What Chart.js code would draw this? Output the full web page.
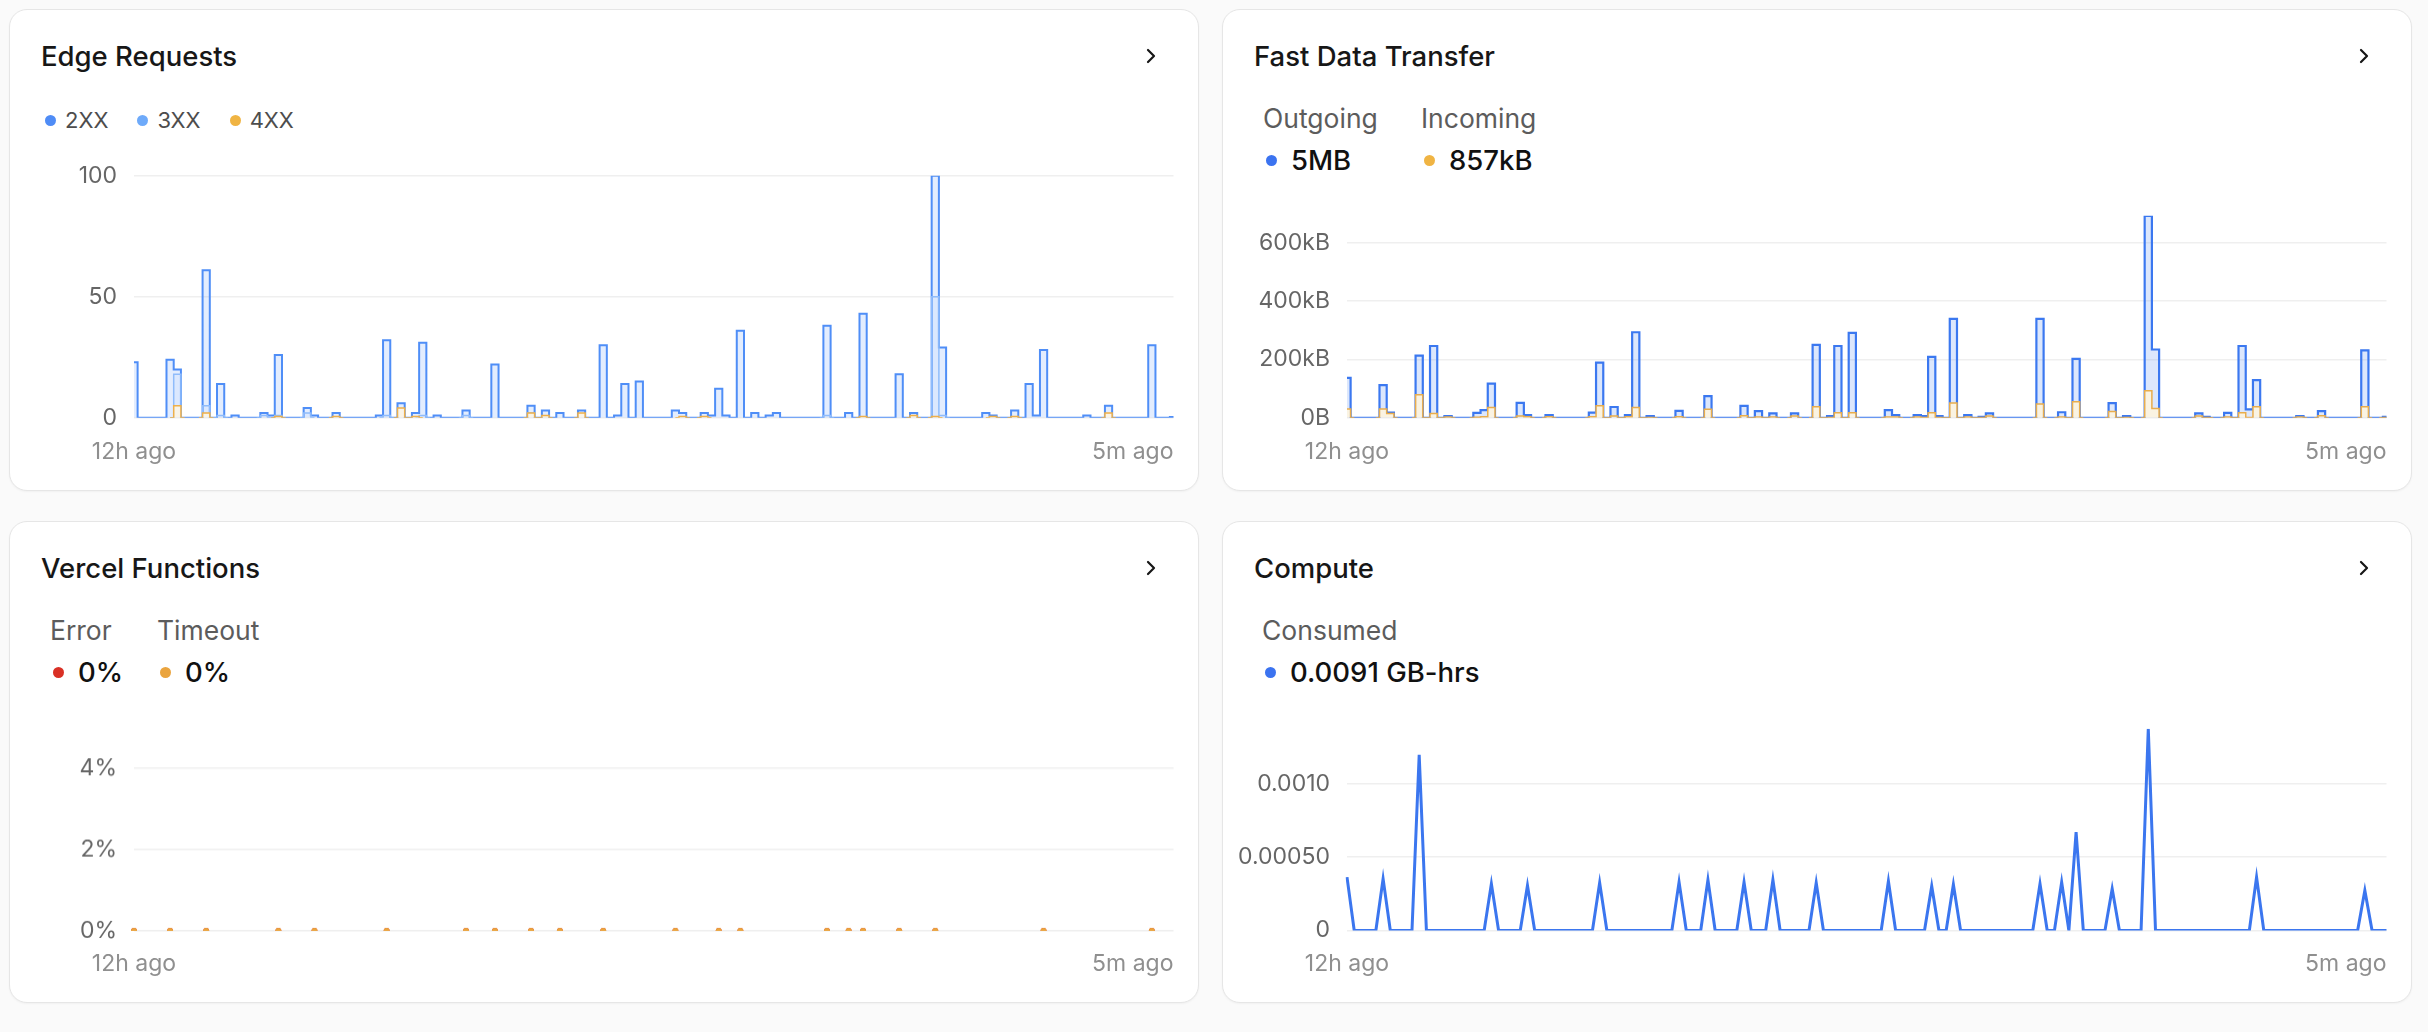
<!DOCTYPE html>
<html>
<head>
<meta charset="utf-8">
<title>Usage overview</title>
<script src="https://cdn.jsdelivr.net/npm/chart.js@4.4.1/dist/chart.umd.min.js"></script>
<style>
body{margin:0;background:#fafafa;font-family:Inter,"Noto Sans",sans-serif;width:2428px;height:1032px;overflow:hidden;}
.card{position:absolute;width:1190px;height:482px;box-sizing:border-box;background:#fff;border:1px solid #e6e6e6;border-radius:18px;box-shadow:0 1px 2px rgba(0,0,0,.04);}
.title{position:absolute;left:31px;top:30px;font-size:27.5px;line-height:32px;font-weight:500;color:#171717;white-space:nowrap;}
.chev{position:absolute;left:1135px;top:37px;}
.plot{position:absolute;left:0;width:1188px;}
.legend{position:absolute;left:35px;top:96px;display:flex;font-size:22px;line-height:28px;color:#4d4d4d;}
.legend span{display:flex;align-items:center;margin-right:29px;}
.legend i{display:inline-block;width:11px;height:11px;border-radius:50%;margin-right:9px;}
.stat{position:absolute;top:92px;white-space:nowrap;}
.stat .lbl{font-size:26.5px;line-height:32px;color:#5c5c5c;}
.stat .val{margin-top:10px;font-size:27.5px;line-height:32px;color:#111;font-weight:500;display:flex;align-items:center;}
.stat .val i{display:inline-block;width:11px;height:11px;border-radius:50%;margin:0 14px 0 3px;}
.xl{position:absolute;top:427px;font-size:23px;line-height:28px;color:#8f8f8f;white-space:nowrap;}
.xl.l{left:124px;transform:translateX(-50%);}
.xl.r{right:24.5px;}
</style>
</head>
<body>

<!-- Edge Requests -->
<div class="card" style="left:9px;top:9px">
  <div class="title">Edge Requests</div>
  <svg class="chev" width="12" height="18" viewBox="0 0 12 18"><path d="M3 3 L9 9 L3 15" fill="none" stroke="#171717" stroke-width="2.2" stroke-linecap="round" stroke-linejoin="round"/></svg>
  <div class="legend">
    <span><i style="background:#4f8cf6"></i>2XX</span>
    <span><i style="background:#6eaafa"></i>3XX</span>
    <span><i style="background:#f0b443"></i>4XX</span>
  </div>
  <div class="plot" style="top:134.6px;height:303.6px"><canvas id="edgeChart"></canvas></div>
  <div class="xl l">12h ago</div><div class="xl r">5m ago</div>
</div>

<!-- Fast Data Transfer -->
<div class="card" style="left:1222px;top:9px">
  <div class="title">Fast Data Transfer</div>
  <svg class="chev" width="12" height="18" viewBox="0 0 12 18"><path d="M3 3 L9 9 L3 15" fill="none" stroke="#171717" stroke-width="2.2" stroke-linecap="round" stroke-linejoin="round"/></svg>
  <div class="stat" style="left:40px"><div class="lbl">Outgoing</div><div class="val"><i style="background:#3b73f0"></i>5MB</div></div>
  <div class="stat" style="left:198px"><div class="lbl">Incoming</div><div class="val"><i style="background:#f0b443"></i>857kB</div></div>
  <div class="plot" style="top:174.6px;height:263.6px"><canvas id="fdtChart"></canvas></div>
  <div class="xl l">12h ago</div><div class="xl r">5m ago</div>
</div>

<!-- Vercel Functions -->
<div class="card" style="left:9px;top:521px">
  <div class="title">Vercel Functions</div>
  <svg class="chev" width="12" height="18" viewBox="0 0 12 18"><path d="M3 3 L9 9 L3 15" fill="none" stroke="#171717" stroke-width="2.2" stroke-linecap="round" stroke-linejoin="round"/></svg>
  <div class="stat" style="left:40px"><div class="lbl">Error</div><div class="val"><i style="background:#d93025"></i>0%</div></div>
  <div class="stat" style="left:147px"><div class="lbl">Timeout</div><div class="val"><i style="background:#eaa43e"></i>0%</div></div>
  <div class="plot" style="top:175.1px;height:263.7px"><canvas id="fnChart"></canvas></div>
  <div class="xl l">12h ago</div><div class="xl r">5m ago</div>
</div>

<!-- Compute -->
<div class="card" style="left:1222px;top:521px">
  <div class="title">Compute</div>
  <svg class="chev" width="12" height="18" viewBox="0 0 12 18"><path d="M3 3 L9 9 L3 15" fill="none" stroke="#171717" stroke-width="2.2" stroke-linecap="round" stroke-linejoin="round"/></svg>
  <div class="stat" style="left:39px"><div class="lbl">Consumed</div><div class="val"><i style="background:#3b73f0"></i>0.0091 GB-hrs</div></div>
  <div class="plot" style="top:175.5px;height:263.3px"><canvas id="computeChart"></canvas></div>
  <div class="xl l">12h ago</div><div class="xl r">5m ago</div>
</div>

<script>
// 145 five-minute slots, 12h ago -> now
// (rows of 10 slots)

// edge requests per slot
var edge2xx = [
  23,0,0,0,0,24,20,0,0,0,
  61,0,14,0,1,0,0,0,2,1,
  26,0,0,0,4,1,0,0,2,0,
  0,0,0,0,1,32,0,6,0,2,
  31,0,1,0,0,0,3,0,0,0,
  22,0,0,0,0,5,0,3,0,2,
  0,0,3,0,0,30,0,1,14,0,
  15,0,0,0,0,3,2,0,0,2,
  1,12,1,0,36,0,2,0,1,2,
  0,0,0,0,0,0,38,0,0,2,
  0,43,0,0,0,0,18,0,2,0,
  0,100,29,0,0,0,0,0,2,1,
  0,0,3,0,14,1,28,0,0,0,
  0,0,1,0,0,5,0,0,0,0,
  0,30,0,0,0.3
];
var edge3xx = [
  0,0,0,0,0,0,18,0,0,0,
  5,0,1,0,0,0,0,0,1,0,
  1,0,0,0,2,0,0,0,0,0,
  0,0,0,0,0,1,0,0,0,0,
  1,0,0,0,0,0,1,0,0,0,
  0,0,0,0,0,2,0,0,0,0,
  0,0,0,0,0,0,0,0,0,0,
  0,0,0,0,0,0,0,0,0,0,
  0,0,0,0,0,0,0,0,0,0,
  0,0,0,0,0,0,1,0,0,0,
  0,0,0,0,0,0,0,0,0,0,
  0,50,1,0,0,0,0,0,0,0,
  0,0,0,0,0,0,0,0,0,0,
  0,0,0,0,0,0,0,0,0,0,
  0,0,0,0,0
];
var edge4xx = [
  0,0,0,0,0,0,5,0,0,0,
  2,0,0,0,0,0,0,0,0,0,
  0.5,0,0,0,0,0,0,0,0.5,0,
  0,0,0,0,0,0,0,4,0,0.5,
  0,0,0,0,0,0,0,0,0,0,
  0,0,0,0,0,2,0,1,0,0,
  0,0,2,0,0,0,0,0,0,0,
  0,0,0,0,0,0,0.5,0,0,0.5,
  0,0,0,0,0,0,0,0,0,0,
  0,0,0,0,0,0,0,0,0,0,
  0,0.5,0,0,0,0,0,0,1,0,
  0,0.5,0,0,0,0,0,0,0,0.5,
  0,0,0.5,0,0,0,0,0,0,0,
  0,0,0,0,0,2,0,0,0,0,
  0,0,0,0,0
];

// fast data transfer, kB per slot
var fdtOut = [
  137,0,0,0,0,112,18,0,0,0,
  213,0,246,0,6,0,0,0,17,26,
  117,0,0,0,51,9,0,0,9,0,
  0,0,0,0,18,189,0,37,0,9,
  293,0,6,0,0,0,24,0,0,0,
  74,0,0,0,0,41,0,23,0,15,
  0,0,15,0,0,250,0,6,246,0,
  291,0,0,0,0,26,9,0,0,9,
  6,209,6,0,339,0,9,0,3,15,
  0,0,0,0,0,0,339,0,0,19,
  0,202,0,0,0,0,50,0,6,0,
  0,692,234,0,0,0,0,0,15,3,
  0,0,17,0,246,29,129,0,0,0,
  0,0,6,0,0,23,0,0,0,0,
  0,231,0,0,3
];
var fdtIn = [
  30,0,0,0,0,30,15,0,0,0,
  79,0,15,0,3,0,0,0,2,4,
  35,0,0,0,6,4,0,0,4,0,
  0,0,0,0,4,41,0,6,0,4,
  35,0,1,0,0,0,4,0,0,0,
  29,0,0,0,0,7,0,3,0,3,
  0,0,6,0,0,38,0,1,17,0,
  17,0,0,0,0,3,3,0,0,3,
  1,17,1,0,51,0,3,0,1,6,
  0,0,0,0,0,0,47,0,0,3,
  0,55,0,0,0,0,22,0,1,0,
  0,93,32,0,0,0,0,0,6,1,
  0,0,3,0,17,1,38,0,0,0,
  0,0,3,0,0,7,0,0,0,0,
  0,38,0,0,1
];

// function error / timeout rate in %, null = no invocations in that slot
var fnError = [
  0,null,null,null,null,0,null,null,null,null,
  0,null,null,null,null,null,null,null,null,null,
  0,null,null,null,null,0,null,null,null,null,
  null,null,null,null,null,0,null,null,null,null,
  null,null,null,null,null,null,0,null,null,null,
  0,null,null,null,null,0,null,null,null,0,
  null,null,null,null,null,0,null,null,null,null,
  null,null,null,null,null,0,null,null,null,null,
  null,0,null,null,0,null,null,null,null,null,
  null,null,null,null,null,null,0,null,null,0,
  null,0,null,null,null,null,0,null,null,null,
  null,0,null,null,null,null,null,null,null,null,
  null,null,null,null,null,null,0,null,null,null,
  null,null,null,null,null,null,null,null,null,null,
  null,0,null,null,null
];
var fnTimeout = fnError.slice(); // same slots, also 0%

// compute, GB-hrs per slot
var computeGbHrs = [
  0.000364,0,0,0,0,0.000352,0,0,0,0,
  0.001198,0,0,0,0,0,0,0,0,0,
  0.000318,0,0,0,0,0.000307,0,0,0,0,
  0,0,0,0,0,0.000325,0,0,0,0,
  0,0,0,0,0,0,0.00033,0,0,0,
  0.000345,0,0,0,0,0.00033,0,0,0,0.000345,
  0,0,0,0,0,0.000325,0,0,0,0,
  0,0,0,0,0,0.000336,0,0,0,0,
  0,0.000302,0,0,0.000314,0,0,0,0,0,
  0,0,0,0,0,0,0.000318,0,0,0.00033,
  0,0.00067,0,0,0,0,0.000284,0,0,0,
  0,0.001375,0,0,0,0,0,0,0,0,
  0,0,0,0,0,0,0.000364,0,0,0,
  0,0,0,0,0,0,0,0,0,0,
  0,0.000273,0,0,0
];

// x categories (slot number), only the two ends get a label (html under the plot)
var slots = [];
for (var i = 0; i < edge2xx.length; i++) slots.push(String(i));

Chart.defaults.font.family = 'Inter, "Noto Sans", sans-serif';

//hides the flat zero part of a line so the blue baseline stays on top
function hideFlat(ctx){
  if (ctx.p0.parsed.y === 0 && ctx.p1.parsed.y === 0) return 'rgba(0,0,0,0)';
  return undefined;
}

//shared y axis, width is fixed so every plot starts at the same x
//only multiples of step get a tick (no tick at the data max)
//note: tick padding also adds space above/below the plot, the .plot divs allow for it
function yAxis(max, step, fmt){
  return {
    min: 0, max: max, bounds: 'data',
    border: {display: false},
    grid: {color: '#efefef', lineWidth: 1.5, drawTicks: false},
    ticks: {stepSize: step, padding: 17, color: '#666',
            font: {size: 23}, callback: fmt},
    afterBuildTicks: function(s){
      s.ticks = s.ticks.filter(function(t){
        var r = t.value / step;
        return Math.abs(r - Math.round(r)) < 1e-6;
      });
    },
    afterFit: function(s){ s.width = 124; }
  };
}

//shared options
function baseOptions(y){
  return {
    animation: false,
    responsive: true,
    maintainAspectRatio: false,
    layout: {padding: {top: 0, bottom: 0, left: 0, right: 24.5}},
    plugins: {legend: {display: false}, tooltip: {enabled: false}},
    elements: {point: {radius: 0}, line: {tension: 0}},
    scales: {x: {display: false}, y: y}
  };
}

function drawEdge(){
  new Chart(document.getElementById('edgeChart'), {
    type: 'line',
    data: {
      labels: slots,
      datasets: [
        {label: '4XX', data: edge4xx, stepped: 'middle', fill: 'origin',
         borderColor: '#eeb04a', borderWidth: 1.5, backgroundColor: 'rgba(253,245,229,0.9)',
         segment: {borderColor: hideFlat}},
        {label: '3XX', data: edge3xx, stepped: 'middle', fill: 'origin',
         borderColor: '#8fbcfb', borderWidth: 1.5, backgroundColor: 'rgba(147,191,251,0.10)',
         segment: {borderColor: hideFlat}},
        {label: '2XX', data: edge2xx, stepped: 'middle', fill: 'origin',
         borderColor: '#4f8ef7', borderWidth: 2, backgroundColor: 'rgba(90,148,247,0.17)'}
      ]
    },
    options: baseOptions(yAxis(100, 50, function(v){ return v; }))
  });
}

function drawFdt(){
  new Chart(document.getElementById('fdtChart'), {
    type: 'line',
    data: {
      labels: slots,
      datasets: [
        {label: 'Incoming', data: fdtIn, stepped: 'middle', fill: 'origin',
         borderColor: '#e9ad4c', borderWidth: 1.5, backgroundColor: 'rgba(253,244,224,0.92)',
         segment: {borderColor: hideFlat}},
        {label: 'Outgoing', data: fdtOut, stepped: 'middle', fill: 'origin',
         borderColor: '#3b78f0', borderWidth: 2.2, backgroundColor: 'rgba(59,120,240,0.18)'}
      ]
    },
    options: baseOptions(yAxis(Math.max.apply(null, fdtOut), 200, function(v){
      return v === 0 ? '0B' : v + 'kB';
    }))
  });
}

function drawFunctions(){
  new Chart(document.getElementById('fnChart'), {
    type: 'line',
    data: {
      labels: slots,
      datasets: [
        {label: 'Timeout', data: fnTimeout, showLine: false, pointRadius: 3,
         pointBackgroundColor: '#eaa43e', pointBorderWidth: 0},
        {label: 'Error', data: fnError, showLine: false, pointRadius: 3,
         pointBackgroundColor: '#d93025', pointBorderWidth: 0}
      ]
    },
    options: baseOptions(yAxis(5, 2, function(v){ return v + '%'; }))
  });
}

function drawCompute(){
  new Chart(document.getElementById('computeChart'), {
    type: 'line',
    data: {
      labels: slots,
      datasets: [
        {label: 'Consumed', data: computeGbHrs, fill: false,
         borderColor: '#3b76ef', borderWidth: 3, pointRadius: 0}
      ]
    },
    options: baseOptions(yAxis(Math.max.apply(null, computeGbHrs), 0.0005, function(v){
      return v === 0 ? '0' : Number(v).toPrecision(2);
    }))
  });
}

drawEdge();
drawFdt();
drawFunctions();
drawCompute();
</script>
</body>
</html>
